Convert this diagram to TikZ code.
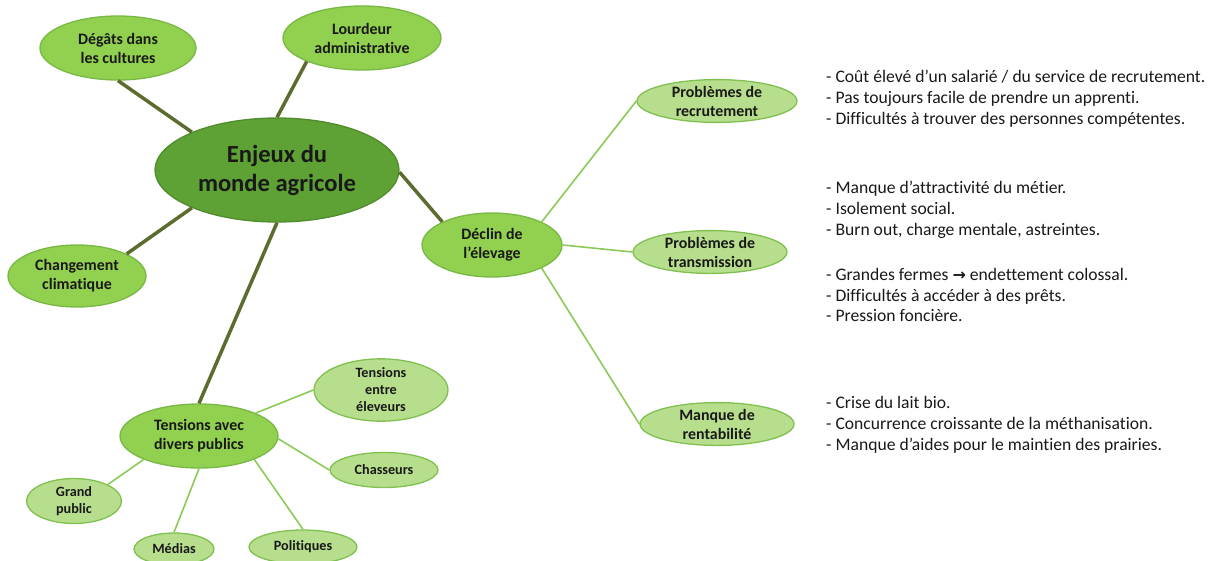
\documentclass[tikz,border=0pt]{standalone}
\usepackage{fontspec}
\setmainfont[Ligatures=NoCommon]{Carlito}
\newfontfamily\arrowfont{DejaVu Sans}
\usetikzlibrary{shapes.geometric}
\definecolor{centre}{RGB}{94,161,53}
\definecolor{centreborder}{RGB}{80,140,44}
\definecolor{branch}{RGB}{146,208,80}
\definecolor{branchborder}{RGB}{120,184,68}
\definecolor{leaf}{RGB}{183,222,140}
\definecolor{leafborder}{RGB}{128,192,80}
\definecolor{trunkline}{RGB}{92,108,46}
\definecolor{twigline}{RGB}{140,202,88}
\tikzstyle{bubble}=[ellipse, draw, inner sep=0pt, align=center, line width=1.3pt, text=black!90]
\tikzset{oval/.style 2 args={minimum width=#1, minimum height=#2}}
\tikzset{centrenode/.style={fill=centre, draw=centreborder, font=\fontsize{24.6}{29}\selectfont\bfseries}}
\tikzset{branchnode/.style={fill=branch, draw=branchborder, font=\fontsize{15.9}{19}\selectfont\bfseries}}
\tikzset{leafnode/.style={fill=leaf, draw=leafborder, font=\fontsize{15.9}{19}\selectfont\bfseries}}
\tikzset{smallleaf/.style={fill=leaf, draw=leafborder, font=\fontsize{14.2}{17}\selectfont\bfseries}}
\tikzstyle{trunk}=[line width=3.5pt, draw=trunkline]
\tikzstyle{twig}=[line width=1.6pt, draw=twigline]
\tikzstyle{notes}=[anchor=west, align=left, inner sep=0pt, text=black!90, font=\fontsize{17.6}{20.8}\selectfont]

\begin{document}
\begin{tikzpicture}[x=1pt, y=-1pt]
  \useasboundingbox (0,0) rectangle (1212,560);

  %% Main idea and first ring
  \draw (277,170) node[bubble,centrenode,oval={244pt}{104pt}] (enjeux) {Enjeux du\\monde agricole};
  \draw (118,48) node[bubble,branchnode,oval={156pt}{64pt}] (degats) {Dégâts dans\\les cultures};
  \draw (362,38) node[bubble,branchnode,oval={158pt}{64pt}] (lourdeur) {Lourdeur\\administrative};
  \draw (77,276) node[bubble,branchnode,oval={138pt}{62pt}] (climat) {Changement\\climatique};
  \draw (492,245) node[bubble,branchnode,oval={140pt}{64pt}] (declin) {Déclin de\\l’élevage};
  \draw (199,436) node[bubble,branchnode,oval={158pt}{64pt}] (tensions) {Tensions avec\\divers publics};

  %% Second ring
  \draw (717,101) node[bubble,leafnode,oval={160pt}{42pt}] (recrut) {Problèmes de\\recrutement};
  \draw (710,252) node[bubble,leafnode,oval={154pt}{41pt}] (transm) {Problèmes de\\transmission};
  \draw (717,424) node[bubble,leafnode,oval={154pt}{42pt}] (rentab) {Manque de\\rentabilité};

  \draw (381,390) node[bubble,smallleaf,oval={134pt}{57pt}] (eleveurs) {Tensions\\entre\\éleveurs};
  \draw (384,470) node[bubble,smallleaf,oval={108pt}{35pt}] (chasseurs) {Chasseurs};
  \draw (74,501) node[bubble,smallleaf,oval={95pt}{45pt}] (public) {Grand\\public};
  \draw (174,549) node[bubble,smallleaf,oval={80pt}{32pt}] (medias) {Médias};
  \draw (303,547) node[bubble,smallleaf,oval={108pt}{34pt}] (politiques) {Politiques};

  %% Links
  \draw[trunk] (enjeux.156) -- (degats.south);
  \draw[trunk] (enjeux.north) -- (lourdeur.203);
  \draw[trunk] (enjeux.204) -- (climat.24);
  \draw[trunk] (enjeux.359) -- (declin.155);
  \draw[trunk] (enjeux.south) -- (tensions.north);

  \draw[twig] (declin.25) -- (recrut.west);
  \draw[twig] (declin.east) -- (transm.west);
  \draw[twig] (declin.335) -- (rentab.west);

  \draw[twig] (tensions.22) -- (eleveurs.west);
  \draw[twig] (tensions.358) -- (chasseurs.west);
  \draw[twig] (tensions.203) -- (public.26);
  \draw[twig] (tensions.south) -- (medias.north);
  \draw[twig] (tensions.337) -- (politiques.north);

  %% Notes on the right
  \node[notes] (txtrecrut) at (826,99) {- Coût élevé d’un salarié / du service de recrutement.\\- Pas toujours facile de prendre un apprenti.\\- Difficultés à trouver des personnes compétentes.};
  \node[notes] (txtmetier) at (826,210) {- Manque d’attractivité du métier.\\- Isolement social.\\- Burn out, charge mentale, astreintes.};
  \node[notes] (txtfinance) at (826,295) {- Grandes fermes {\arrowfont\bfseries\fontsize{16}{20.8}\selectfont →} endettement colossal.\\- Difficultés à accéder à des prêts.\\- Pression foncière.};
  \node[notes] (txtrentab) at (826,425) {- Crise du lait bio.\\- Concurrence croissante de la méthanisation.\\- Manque d’aides pour le maintien des prairies.};
\end{tikzpicture}
\end{document}
